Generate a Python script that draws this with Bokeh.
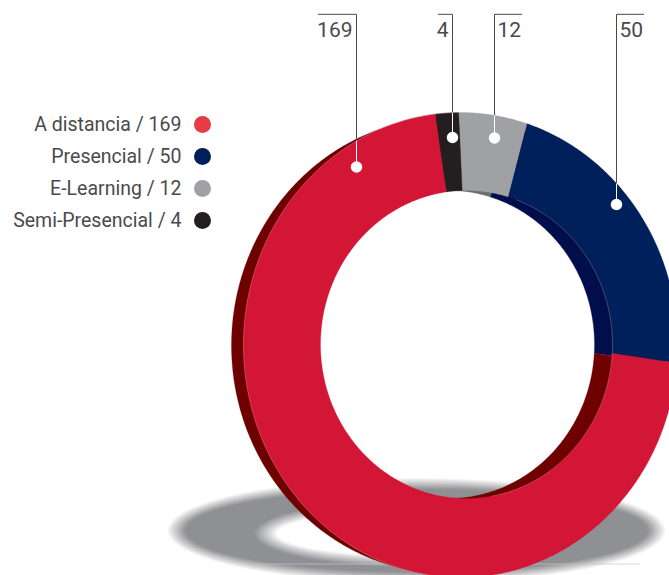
import numpy as np
from bokeh.plotting import figure
from bokeh.embed import file_html
from bokeh.resources import INLINE
from bokeh.core.properties import value

# data
categories = ["A distancia", "Presencial", "E-Learning", "Semi-Presencial"]
values = [169, 50, 12, 4]
front_colors = ["#D31635", "#00205C", "#A0A1A5", "#231F20"]
wall_colors = ["#6E0000", "#000F4C", "#6D6E71", "#231F20"]
legend_colors = ["#E63A44", "#00205C", "#A0A1A5", "#231F20"]
# drawing order, clockwise from the top
ring_order = [2, 1, 0, 3]

W, H = 669, 575
p = figure(width=W, height=H, x_range=(0, 669), y_range=(575, 0), output_backend="svg",
           toolbar_location=None, min_border=0, outline_line_color=None,
           background_fill_color="white", border_fill_color="white")
p.axis.visible = False
p.grid.visible = False

# layout geometry: centre x, centre y, radius x, radius y
F_OUT = (460, 344.5, 217, 232.5)
F_IN = (466, 344, 146, 154)
B_OUT = (448, 345, 217, 228)
B_IN = (448, 344, 146, 154)
START = -0.5
IN_SKEW = -1.2


def pt(e, t):
    t = np.radians(t)
    return e[0] + e[2] * np.sin(t), e[1] - e[3] * np.cos(t)


def wedge(o, i, a, b):
    t = np.linspace(a, b, max(int(abs(b - a)) * 2, 4))
    xo, yo = pt(o, t)
    xi, yi = pt(i, t[::-1] + IN_SKEW)
    return list(np.r_[xo, xi]), list(np.r_[yo, yi])


# shadow: stacked ellipses give a linear soft edge
SH_O = (416, 530, 240, 47)
SH_I = (415, 533, 150, 28)
N = 14
for j, k in enumerate(range(N, -1, -1)):
    p.ellipse(x=SH_O[0], y=SH_O[1], width=2 * (SH_O[2] + (k - N / 2) * 1.3), height=2 * (SH_O[3] + (k - N / 2) * 0.8),
              fill_color="#8F9094", fill_alpha=1 / (N + 1 - j), line_color=None)
for j, k in enumerate(range(N, -1, -1)):
    p.ellipse(x=SH_I[0], y=SH_I[1], width=2 * (SH_I[2] + (k - N / 2) * 1.6), height=2 * (SH_I[3] + (k - N / 2) * 0.8),
              fill_color="white", fill_alpha=1 / (N + 1 - j), line_color=None)
p.line([250, 640], [563.5, 563.5], line_color="#C4C5C7", line_width=0.7)

# wedges
total = sum(values)
spans = []
a = START
for idx in ring_order:
    b = a + 360 * values[idx] / total
    spans.append((idx, a, b))
    a = b

for idx, a, b in spans:
    xs, ys = wedge(B_OUT, B_IN, a, b)
    p.patch(xs, ys, fill_color=wall_colors[idx], line_color=wall_colors[idx], line_width=0.3)

# leaders beneath the ring
leaders = [(0, 317.5, 356, 166.5), (3, 437.5, 452, 137), (2, 521.5, 494, 137.5), (1, 643.5, 616, 204)]
for _, x0, x1, yd in leaders:
    p.line([x0, x1, x1], [13.8, 13.8, yd], line_color="#48484A", line_width=1)

for idx, a, b in spans:
    xs, ys = wedge(F_OUT, F_IN, a, b)
    p.patch(xs, ys, fill_color=front_colors[idx], line_color=front_colors[idx], line_width=0.3)

# thin seams
t = np.linspace(180, 360, 200)
xs, ys = pt(F_OUT, t)
p.line(list(xs), list(ys), line_color="#E8B0B8", line_width=0.5, line_alpha=0.7)
t = np.linspace(20, 170, 200)
xs, ys = pt(F_IN, t)
p.line(list(xs), list(ys), line_color="#C8A0A8", line_width=0.5, line_alpha=0.7)

# white part of leaders and dots
for _, _, x1, yd in leaders:
    ytop = F_OUT[1] - F_OUT[3] * np.sqrt(1 - ((x1 - F_OUT[0]) / F_OUT[2]) ** 2)
    p.line([x1, x1], [ytop, yd], line_color="white", line_width=1)
p.scatter([l[2] for l in leaders], [l[3] for l in leaders], size=11.5, marker="circle",
          fill_color="white", line_color=None)

# value labels
FONT = value("Roboto")
lab_x = [352, 448, 497, 619]
lab_align = ["right", "right", "left", "left"]
for (idx, *_), x, al in zip(leaders, lab_x, lab_align):
    p.text([x], [28.5], text=[str(values[idx])], text_font=FONT, text_font_size="21px",
           text_color="#4A4A4C", text_align=al, text_baseline="middle")

# legend
leg_y = [124, 156, 188, 220]
p.text([181] * 4, [y - 0.5 for y in leg_y], text=[f"{c} / {v}" for c, v in zip(categories, values)], text_font=FONT,
       text_font_size="19.5px", text_color="#4A4A4C", text_align="right", text_baseline="middle")
p.scatter([202] * 4, leg_y, size=17, marker="circle", fill_color=legend_colors, line_color=None)

open("out.html", "w").write(file_html(p, INLINE))
